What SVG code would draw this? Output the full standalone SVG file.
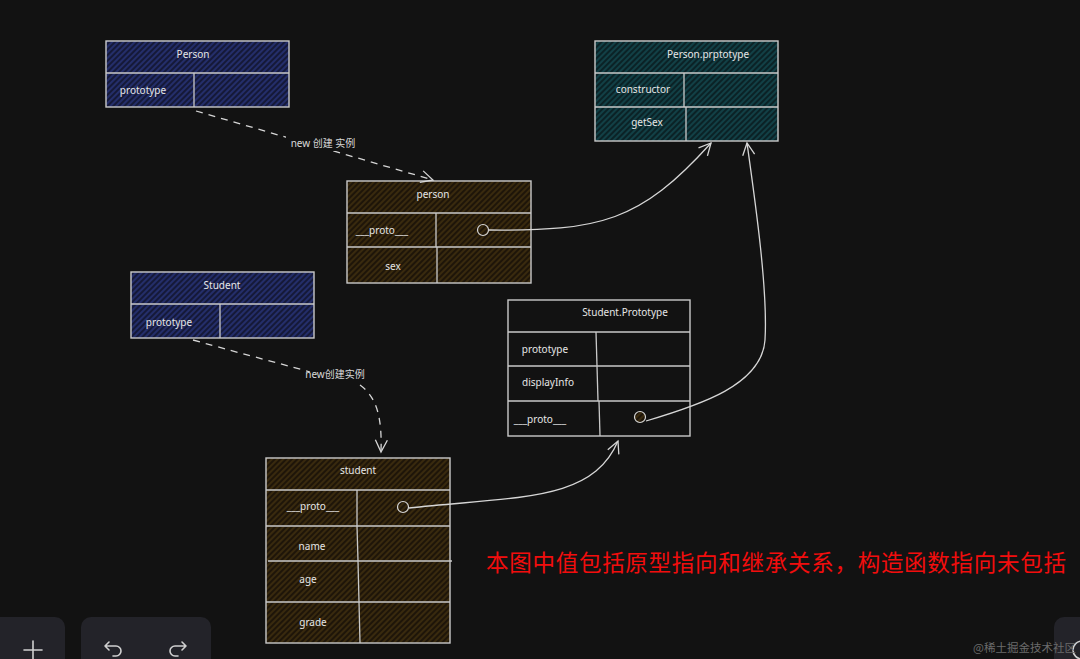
<svg xmlns="http://www.w3.org/2000/svg" width="1080" height="659" viewBox="0 0 1080 659">
<defs>
<pattern id="hNavy" patternUnits="userSpaceOnUse" width="4" height="4" patternTransform="rotate(45)">
<rect width="4" height="4" fill="#151938"/><line x1="1" y1="0" x2="1" y2="4" stroke="#28357a" stroke-width="1.5"/>
</pattern>
<pattern id="hTeal" patternUnits="userSpaceOnUse" width="4" height="4" patternTransform="rotate(45)">
<rect width="4" height="4" fill="#0b2226"/><line x1="1" y1="0" x2="1" y2="4" stroke="#144a50" stroke-width="1.5"/>
</pattern>
<pattern id="hBrown" patternUnits="userSpaceOnUse" width="4" height="4" patternTransform="rotate(45)">
<rect width="4" height="4" fill="#1e1509"/><line x1="1" y1="0" x2="1" y2="4" stroke="#42300f" stroke-width="1.5"/>
</pattern>
<marker id="arr" markerWidth="16" markerHeight="16" refX="13" refY="8" orient="auto" markerUnits="userSpaceOnUse">
<path d="M1,2 L13,8 L1,14" fill="none" stroke="#d6d6d6" stroke-width="1.3"/>
</marker>
</defs>
<style>
.box{stroke:#c9c9c9;stroke-width:1.4}
.ln{stroke:#c9c9c9;stroke-width:1.3;fill:none}
.t{font-family:"Noto Sans","Liberation Sans","Noto Sans CJK SC",sans-serif;font-size:10px;fill:#e6e6e6;text-anchor:middle}
.lbl{font-family:"Noto Sans","Liberation Sans","Noto Sans CJK SC",sans-serif;font-size:10px;fill:#d8d8d8;text-anchor:middle}
.con{stroke:#d6d6d6;stroke-width:1.3;fill:none}
.dash{stroke-dasharray:7 6}
.dot{stroke:#d6d6d6;stroke-width:1.2}
.ui{fill:#232329}
.ico{stroke:#d0d0d0;stroke-width:1.6;fill:none;stroke-linecap:round;stroke-linejoin:round}
</style>
<rect width="1080" height="659" fill="#121212"/>

<g id="Person">
<rect class="box" x="106" y="41" width="183" height="66" fill="url(#hNavy)"/>
<line class="ln" x1="106" y1="73" x2="289" y2="73"/>
<line class="ln" x1="194" y1="73" x2="194" y2="107"/>
<text class="t" x="193" y="58">Person</text>
<text class="t" x="143" y="94">prototype</text>
</g>

<g id="PersonPrototype">
<rect class="box" x="595" y="41" width="183" height="100" fill="url(#hTeal)"/>
<line class="ln" x1="595" y1="73" x2="778" y2="73"/>
<line class="ln" x1="595" y1="107" x2="778" y2="107"/>
<line class="ln" x1="684" y1="73" x2="684" y2="107"/>
<line class="ln" x1="686" y1="107" x2="686" y2="141"/>
<text class="t" x="708" y="58">Person.prptotype</text>
<text class="t" x="643" y="93">constructor</text>
<text class="t" x="647" y="126">getSex</text>
</g>

<g id="person">
<rect class="box" x="347" y="181" width="184" height="102" fill="url(#hBrown)"/>
<line class="ln" x1="347" y1="213" x2="531" y2="213"/>
<line class="ln" x1="347" y1="247" x2="531" y2="247"/>
<line class="ln" x1="436" y1="213" x2="436" y2="247"/>
<line class="ln" x1="437" y1="247" x2="437" y2="283"/>
<text class="t" x="433" y="198">person</text>
<text class="t" x="382" y="234">___proto___</text>
<text class="t" x="393" y="270">sex</text>
<circle class="dot" cx="483" cy="230" r="5.5" fill="url(#hBrown)"/>
</g>

<g id="Student">
<rect class="box" x="131" y="272" width="183" height="66" fill="url(#hNavy)"/>
<line class="ln" x1="131" y1="304" x2="314" y2="304"/>
<line class="ln" x1="220" y1="304" x2="220" y2="338"/>
<text class="t" x="222" y="289">Student</text>
<text class="t" x="169" y="326">prototype</text>
</g>

<g id="StudentPrototype">
<rect class="box" x="508" y="300" width="182" height="136" fill="#121212"/>
<line class="ln" x1="508" y1="332" x2="690" y2="332"/>
<line class="ln" x1="508" y1="366" x2="690" y2="366"/>
<line class="ln" x1="508" y1="401" x2="690" y2="401"/>
<line class="ln" x1="596" y1="332" x2="597" y2="366"/>
<line class="ln" x1="597" y1="366" x2="598" y2="401"/>
<line class="ln" x1="599" y1="401" x2="600" y2="436"/>
<text class="t" x="625" y="316">Student.Prototype</text>
<text class="t" x="545" y="353">prototype</text>
<text class="t" x="548" y="386">displayInfo</text>
<text class="t" x="540" y="423">___proto___</text>
<circle class="dot" cx="640" cy="417" r="5.5" fill="url(#hBrown)"/>
</g>

<g id="student">
<rect class="box" x="266" y="458" width="184" height="185" fill="url(#hBrown)"/>
<line class="ln" x1="266" y1="490" x2="450" y2="490"/>
<line class="ln" x1="266" y1="526" x2="450" y2="526"/>
<line class="ln" x1="268" y1="561" x2="452" y2="561"/>
<line class="ln" x1="266" y1="602" x2="450" y2="602"/>
<line class="ln" x1="357" y1="490" x2="357" y2="526"/>
<line class="ln" x1="357" y1="526" x2="358" y2="561"/>
<line class="ln" x1="358" y1="561" x2="359" y2="602"/>
<line class="ln" x1="359" y1="602" x2="360" y2="643"/>
<text class="t" x="358" y="474">student</text>
<text class="t" x="313" y="510">___proto___</text>
<text class="t" x="312" y="550">name</text>
<text class="t" x="308" y="583">age</text>
<text class="t" x="313" y="626">grade</text>
<circle class="dot" cx="403" cy="507" r="5.5" fill="url(#hBrown)"/>
</g>

<g id="connectors">
<path class="con dash" d="M196,111 L433,180" marker-end="url(#arr)"/>
<rect x="286" y="136" width="74" height="15" fill="#121212"/>
<text class="lbl" x="323" y="147">new 创建 实例</text>
<path class="con dash" d="M193,340 C250,356 290,366 310,372 M360,385 C378,398 382,420 381,452" marker-end="url(#arr)"/>
<text class="lbl" x="335" y="378">new创建实例</text>
<path class="con" d="M489,230 C600,231 640,222 711,143" marker-end="url(#arr)"/>
<path class="con" d="M646,421 C700,405 762,385 765,340 C768,290 755,200 747,143" marker-end="url(#arr)"/>
<path class="con" d="M409,508 C520,496 592,502 618,441" marker-end="url(#arr)"/>
</g>

<g id="note">
<text x="486" y="571" font-family="'Noto Sans CJK SC',sans-serif" font-size="22.5" textLength="580" lengthAdjust="spacing" fill="#f20d0d">本图中值包括原型指向和继承关系，构造函数指向未包括</text>
</g>

<g id="toolbar">
<rect class="ui" x="-12" y="617" width="77" height="60" rx="10"/>
<line class="ico" x1="33" y1="641" x2="33" y2="659"/>
<line class="ico" x1="24" y1="650" x2="42" y2="650"/>
<rect class="ui" x="81" y="617" width="130" height="60" rx="10"/>
<path class="ico" d="M109,642 L105,646 L109,650 M105,646 H116 A5,5 0 0 1 116,656 H113"/>
<path class="ico" d="M182,642 L186,646 L182,650 M186,646 H175 A5,5 0 0 0 175,656 H178"/>
<rect class="ui" x="1054" y="617" width="40" height="60" rx="10"/>
<path class="ico" d="M1082,641 A9,9 0 0 0 1082,659"/>
<text x="973" y="652" font-family="'Noto Sans CJK SC',sans-serif" font-size="11.5" fill="#6b6b6b">@稀土掘金技术社区</text>
</g>
</svg>
